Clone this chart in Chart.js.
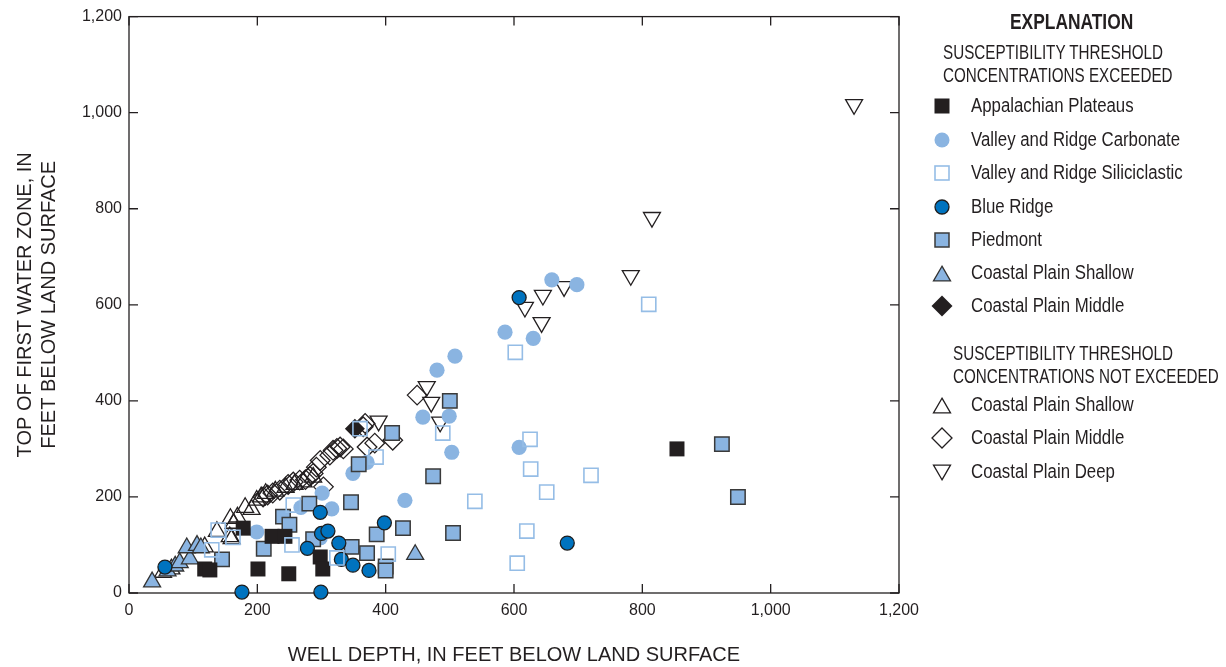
<!DOCTYPE html>
<html>
<head>
<meta charset="utf-8">
<script src="https://cdn.jsdelivr.net/npm/chart.js@4.4.1/dist/chart.umd.min.js"></script>
<style>
  html, body { margin: 0; padding: 0; background: #ffffff; }
  #wrap { position: relative; width: 1226px; height: 667px; overflow: hidden; }
  #c { position: absolute; left: 0; top: 0; }
  .lg { position: absolute; font-family: 'Liberation Sans', Arial, sans-serif; color: #231f20;
        white-space: nowrap; line-height: 1; transform-origin: 0 50%; }
  .item { font-size: 19.5px; transform: translateY(-50%) scaleX(0.862); left: 971px; }
  .head { font-size: 19.5px; transform: translateY(-50%) scaleX(0.78); }
  .title { font-size: 22px; font-weight: bold; transform: translateY(-50%) scaleX(0.79); }
  #lgsvg { position: absolute; left: 900px; top: 0; }
</style>
</head>
<body>
<div id="wrap">
  <canvas id="c" width="1226" height="667"></canvas>
  <div class="lg title" style="left:1010px; top:22px;">EXPLANATION</div>
  <div class="lg head" style="left:943px; top:53px;">SUSCEPTIBILITY THRESHOLD</div>
  <div class="lg head" style="left:943px; top:76px;">CONCENTRATIONS EXCEEDED</div>
  <div class="lg item" style="top:106px;">Appalachian Plateaus</div>
  <div class="lg item" style="top:140px;">Valley and Ridge Carbonate</div>
  <div class="lg item" style="top:173px;">Valley and Ridge Siliciclastic</div>
  <div class="lg item" style="top:207px;">Blue Ridge</div>
  <div class="lg item" style="top:240px;">Piedmont</div>
  <div class="lg item" style="top:273px;">Coastal Plain Shallow</div>
  <div class="lg item" style="top:306px;">Coastal Plain Middle</div>
  <div class="lg head" style="left:953px; top:354px;">SUSCEPTIBILITY THRESHOLD</div>
  <div class="lg head" style="left:953px; top:377px;">CONCENTRATIONS NOT EXCEEDED</div>
  <div class="lg item" style="top:405px;">Coastal Plain Shallow</div>
  <div class="lg item" style="top:438px;">Coastal Plain Middle</div>
  <div class="lg item" style="top:472px;">Coastal Plain Deep</div>
  <svg id="lgsvg" width="326" height="667" xmlns="http://www.w3.org/2000/svg">
    <g transform="translate(42,106)"><rect x="-7.5" y="-7.5" width="15" height="15" fill="#231f20"/></g>
    <g transform="translate(42,140)"><circle r="7.5" fill="#8ab4e1"/></g>
    <g transform="translate(42,173)"><rect x="-7" y="-7" width="14" height="14" fill="none" stroke="#95bde6" stroke-width="1.6"/></g>
    <g transform="translate(42,207)"><circle r="7" fill="#0073bf" stroke="#1e1e1e" stroke-width="1.3"/></g>
    <g transform="translate(42,240)"><rect x="-7" y="-7" width="14" height="14" fill="#8ab4e1" stroke="#3a3a3a" stroke-width="1.5"/></g>
    <g transform="translate(42,276)"><polygon points="0,-9.8 8.5,4.9 -8.5,4.9" fill="#8ab4e1" stroke="#333" stroke-width="1.3"/></g>
    <g transform="translate(42,306)"><polygon points="0,-10.5 10.5,0 0,10.5 -10.5,0" fill="#231f20"/></g>
    <g transform="translate(42,408)"><polygon points="0,-9.8 8.5,4.9 -8.5,4.9" fill="none" stroke="#231f20" stroke-width="1.3"/></g>
    <g transform="translate(42,438)"><polygon points="0,-10 10,0 0,10 -10,0" fill="none" stroke="#231f20" stroke-width="1.3"/></g>
    <g transform="translate(42,470)"><polygon points="0,9.8 8.5,-4.9 -8.5,-4.9" fill="none" stroke="#231f20" stroke-width="1.3"/></g>
  </svg>
</div>
<script>
// ---- Axis ticks ----
const tickValues = [0, 200, 400, 600, 800, 1000, 1200];
const tickLabels = ['0', '200', '400', '600', '800', '1,000', '1,200'];

// ---- Series: [well depth, top of first water zone] (feet below land surface) ----
// Susceptibility threshold concentrations exceeded
const appalachianPlateaus = [[118,50],[126,48],[178,135],[223,118],[243,118],[201,50],[249,40],[298,75],[302,50],[854,300]];
const valleyRidgeCarbonate = [[659,652],[698,642],[586,543],[630,530],[508,493],[480,464],[458,366],[499,368],[503,293],[608,303],[430,193],[371,272],[349,249],[301,208],[316,175],[268,178],[199,127],[298,115]];
const valleyRidgeSiliciclastic = [[139,131],[129,90],[162,116],[256,183],[254,100],[324,73],[404,81],[360,342],[385,283],[489,333],[602,501],[625,320],[626,258],[720,245],[651,210],[539,191],[620,129],[605,62],[810,601]];
const blueRidge = [[56,54],[176,2],[299,2],[608,615],[683,104],[398,146],[298,168],[300,124],[310,129],[278,93],[327,104],[331,70],[349,58],[374,47]];
const piedmont = [[500,400],[410,333],[474,243],[346,189],[427,135],[505,125],[386,122],[358,268],[347,96],[371,83],[400,55],[400,47],[240,159],[250,142],[210,92],[145,70],[281,186],[287,112],[924,310],[949,200]];
const coastalShallowExceeded = [[36,23],[60,46],[72,56],[79,63],[95,71],[90,94],[106,99],[112,94],[446,80]];
const coastalMiddleExceeded = [[352,342]];
// Susceptibility threshold concentrations not exceeded
const coastalShallowNot = [[53,43],[66,50],[118,96],[137,128],[157,117],[160,113],[158,155],[163,145],[169,158],[181,178],[191,174],[199,193],[206,200],[213,207],[228,212],[244,220],[258,226],[272,231],[287,241]];
const coastalMiddleNot = [[209,200],[216,204],[224,208],[235,214],[248,226],[256,231],[266,235],[275,236],[282,243],[287,249],[292,262],[298,276],[303,221],[313,287],[318,297],[324,301],[329,304],[334,300],[365,346],[368,353],[371,304],[383,312],[411,318],[449,412]];
const coastalDeepNot = [[1130,1017],[815,782],[782,661],[678,638],[645,620],[617,595],[643,563],[464,430],[471,397],[485,356],[389,358]];

const toXY = arr => arr.map(p => ({ x: p[0], y: p[1] }));
const INK = '#231f20';
const LIGHT = '#8ab4e1';
const FONT = "'Liberation Sans', Arial, sans-serif";

function ds(label, data, style, radius, bg, border, bw, rot) {
  return {
    label: label, data: toXY(data), showLine: false, clip: false,
    pointStyle: style, pointRadius: radius, pointHoverRadius: radius,
    pointBackgroundColor: bg, pointBorderColor: border, pointBorderWidth: bw,
    pointHoverBackgroundColor: bg, pointHoverBorderColor: border, pointHoverBorderWidth: bw,
    pointRotation: rot || 0
  };
}

// First dataset is drawn top-most
const datasets = [
  ds('Valley and Ridge Siliciclastic', valleyRidgeSiliciclastic, 'rect', 10, 'rgba(0,0,0,0)', '#95bde6', 1.6),
  ds('Coastal Plain Middle', coastalMiddleExceeded, 'rectRot', 10, INK, INK, 0),
  ds('Appalachian Plateaus', appalachianPlateaus, 'rect', 10.6, INK, INK, 0),
  ds('Blue Ridge', blueRidge, 'circle', 7, '#0073bf', '#1e1e1e', 1.3),
  ds('Coastal Plain Shallow', coastalShallowExceeded, 'triangle', 9.8, LIGHT, '#333333', 1.3),
  ds('Piedmont', piedmont, 'rect', 10.2, LIGHT, '#3a3a3a', 1.5),
  ds('Valley and Ridge Carbonate', valleyRidgeCarbonate, 'circle', 7.6, LIGHT, LIGHT, 0),
  ds('Coastal Plain Deep (not exceeded)', coastalDeepNot, 'triangle', 9.8, 'rgba(0,0,0,0)', INK, 1.3, 180),
  ds('Coastal Plain Middle (not exceeded)', coastalMiddleNot, 'rectRot', 9.8, 'rgba(0,0,0,0)', INK, 1.3),
  ds('Coastal Plain Shallow (not exceeded)', coastalShallowNot, 'triangle', 9.8, 'rgba(0,0,0,0)', INK, 1.3)
];

const framePlugin = {
  id: 'frame',
  beforeDatasetsDraw(chart) {
    const { ctx, chartArea: { left, right, top, bottom }, scales: { x, y } } = chart;
    ctx.save();
    ctx.strokeStyle = INK;
    ctx.lineWidth = 1.3;
    ctx.strokeRect(left, top, right - left, bottom - top);
    ctx.beginPath();
    const TL = 9;
    x.ticks.forEach(t => {
      const px = x.getPixelForValue(t.value);
      ctx.moveTo(px, bottom); ctx.lineTo(px, bottom - TL);
      ctx.moveTo(px, top); ctx.lineTo(px, top + TL);
    });
    y.ticks.forEach(t => {
      const py = y.getPixelForValue(t.value);
      ctx.moveTo(left, py); ctx.lineTo(left + TL, py);
      ctx.moveTo(right, py); ctx.lineTo(right - TL, py);
    });
    ctx.stroke();
    ctx.restore();
  }
};

const tickCb = v => { const i = tickValues.indexOf(v); return i >= 0 ? tickLabels[i] : ''; };

Chart.defaults.font.family = FONT;
Chart.defaults.color = INK;

new Chart(document.getElementById('c'), {
  type: 'scatter',
  data: { datasets: datasets },
  plugins: [framePlugin],
  options: {
    responsive: false,
    animation: false,
    events: [],
    layout: { padding: { left: 0, top: 16, right: 327, bottom: 0 } },
    plugins: { legend: { display: false }, tooltip: { enabled: false } },
    scales: {
      x: {
        type: 'linear', min: 0, max: 1200,
        afterBuildTicks: s => { s.ticks = tickValues.map(v => ({ value: v })); },
        afterFit: s => { s.height = 74; },
        ticks: { callback: tickCb, padding: 8, color: INK, font: { size: 16 }, maxRotation: 0 },
        grid: { display: false, drawTicks: false },
        border: { display: false },
        title: { display: true, text: 'WELL DEPTH, IN FEET BELOW LAND SURFACE', color: INK,
                 font: { size: 20 }, padding: { top: 0, bottom: 0 } }
      },
      y: {
        type: 'linear', min: 0, max: 1200,
        afterBuildTicks: s => { s.ticks = tickValues.map(v => ({ value: v })); },
        afterFit: s => { s.width = 129; },
        ticks: { callback: tickCb, padding: 7, color: INK, font: { size: 16 } },
        grid: { display: false, drawTicks: false },
        border: { display: false },
        title: { display: true, text: ['TOP OF FIRST WATER ZONE, IN', 'FEET BELOW LAND SURFACE'], color: INK,
                 font: { size: 20 }, padding: { top: 13, bottom: 0 } }
      }
    }
  }
});
</script>
</body>
</html>
